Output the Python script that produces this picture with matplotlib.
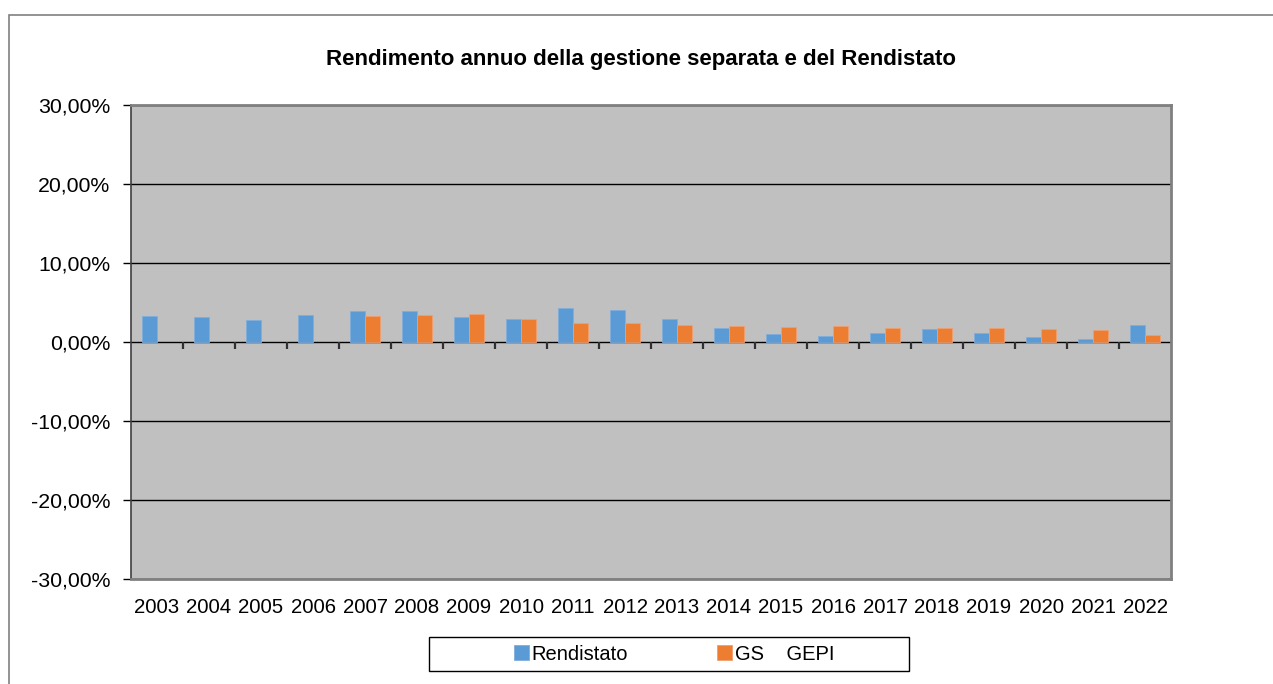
import matplotlib
matplotlib.use("Agg")
import matplotlib.pyplot as plt
from matplotlib.patches import Rectangle
from matplotlib.ticker import FuncFormatter
import numpy as np

years = ["2003", "2004", "2005", "2006", "2007", "2008", "2009", "2010", "2011", "2012",
         "2013", "2014", "2015", "2016", "2017", "2018", "2019", "2020", "2021", "2022"]
rendistato = [3.33, 3.16, 2.82, 3.45, 3.92, 3.96, 3.16, 2.95, 4.34, 4.09,
              2.95, 1.81, 1.05, 0.80, 1.09, 1.64, 1.18, 0.67, 0.38, 2.10]
gs_gepi = [np.nan, np.nan, np.nan, np.nan, 3.24, 3.45, 3.58, 2.91, 2.36, 2.36,
           2.10, 2.06, 1.94, 2.02, 1.81, 1.81, 1.72, 1.64, 1.56, 0.89]
series_names = ["Rendistato", "GS    GEPI"]
title = "Rendimento annuo della gestione separata e del Rendistato"
yticks = [-30, -20, -10, 0, 10, 20, 30]

plt.rcParams['font.family'] = ['Liberation Sans', 'DejaVu Sans']

W, H = 1273, 684
fig = plt.figure(figsize=(W / 100, H / 100), dpi=100)
fig.patch.set_facecolor("white")

# outer chart border
fig.add_artist(Rectangle((9 / W, -0.1), 1.2, 1 - 15 / H + 0.1, transform=fig.transFigure,
                         facecolor="none", edgecolor="#808080", linewidth=1.2, zorder=0))

ax = fig.add_axes([131 / W, 1 - 579 / H, (1171 - 131) / W, (579 - 105) / H])
ax.set_facecolor("#C0C0C0")

x = np.arange(len(years))
bw = 0.29
ax.bar(x - bw / 2, rendistato, width=bw, color="#5B9BD5", edgecolor="#7FAEDB",
       linewidth=0.6, label=series_names[0], zorder=3)
ax.bar(x + bw / 2, gs_gepi, width=bw, color="#ED7D31", edgecolor="#F0A070",
       linewidth=0.6, label=series_names[1], zorder=3)

ax.set_xlim(-0.5, len(years) - 0.5)
ax.set_ylim(-30, 30)
ax.set_yticks(yticks)
ax.yaxis.set_major_formatter(FuncFormatter(lambda v, p: f"{v:.2f}".replace(".", ",") + "%"))
for yv in yticks:
    ax.axhline(yv, color="black", linewidth=1.0, zorder=2)

# category separator ticks on the zero line
ax.vlines(x[1:] - 0.5, -0.9, 0, color="#303030", linewidth=1.6, zorder=4)

ax.set_xticks(x)
ax.set_xticklabels(years)
ax.tick_params(axis="x", length=0, pad=14, labelsize=14.7)
ax.tick_params(axis="y", length=6, width=1, pad=9, labelsize=15.3, direction="out")

for s in ["top", "right", "bottom"]:
    ax.spines[s].set_color("#808080")
    ax.spines[s].set_linewidth(2.0)
ax.spines["left"].set_color("#404040")
ax.spines["left"].set_linewidth(1.2)

fig.text(641 / W, 1 - 59 / H, title, ha="center", va="center", fontsize=16, fontweight="bold")

# legend frame and legend
fig.add_artist(Rectangle((429 / W, 1 - 671 / H), (909 - 429) / W, (671 - 637) / H,
                         transform=fig.transFigure, facecolor="white", edgecolor="black",
                         linewidth=1.0, zorder=5))
leg = fig.legend(loc="center", bbox_to_anchor=(674 / W, 1 - 654 / H), ncol=2,
                 frameon=False, fontsize=14.5, handlelength=0.75, handleheight=0.75,
                 handletextpad=0.15, columnspacing=4.4, borderpad=0)
leg.set_zorder(6)

fig.savefig("out.png", dpi=100)
